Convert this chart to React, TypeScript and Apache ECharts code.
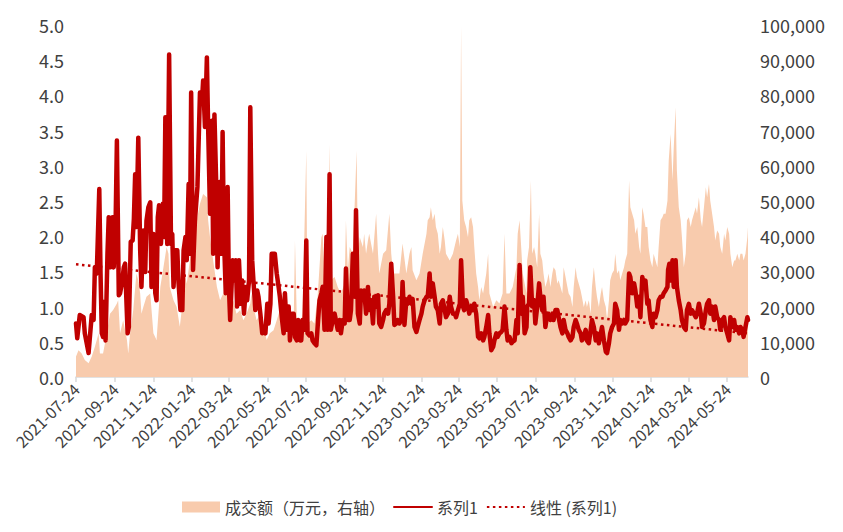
import React, { useEffect, useRef } from "react";
import * as echarts from "echarts";

// x axis: every calendar day from 2021-07-24 (day 0) to 2024-06-26 (day 1068)
const startDate = "2021-07-24";
const dayCount = 1069;

// 系列1 (left axis): [day offset from 2021-07-24, value]
const series1Points: [number, number][] = [
  [0,0.76],[2,0.55],[6,0.88],[12,0.85],[14,0.62],[20,0.34],[25,0.88],[28,0.81],[30,1.56],[33,1.47],
  [37,2.67],[39,1.47],[41,0.62],[43,0.57],[45,1.07],[47,0.52],[50,1.75],[52,2.27],[55,1.56],[58,2.27],
  [60,1.56],[63,2.22],[65,3.36],[68,1.16],[70,1.19],[73,1.33],[76,1.56],[78,1.61],[82,0.62],[84,0.71],
  [87,1.92],[90,1.94],[92,2.25],[94,2.88],[96,2.13],[99,3.40],[102,1.80],[104,1.28],[107,2.08],[110,1.49],
  [112,2.22],[115,2.41],[118,2.48],[120,1.28],[123,2.03],[126,1.19],[128,1.09],[130,2.27],[132,2.44],[135,1.89],
  [138,2.46],[140,1.99],[142,3.69],[145,1.89],[148,4.58],[151,1.89],[153,2.03],[155,1.28],[158,1.80],[161,1.80],
  [163,1.33],[166,0.95],[169,0.95],[171,1.80],[174,1.99],[176,1.66],[179,2.74],[181,1.75],[183,4.04],[186,1.52],
  [189,2.22],[193,2.70],[197,4.04],[200,3.88],[202,4.21],[205,3.55],[208,4.54],[210,3.55],[213,2.32],[216,3.64],
  [218,1.75],[220,3.73],[223,2.70],[225,1.56],[228,2.77],[231,1.75],[233,3.48],[235,2.03],[238,1.19],[241,2.70],
  [243,1.28],[245,0.81],[249,1.66],[251,1.37],[254,1.66],[256,1.00],[259,1.66],[262,1.04],[264,1.37],[267,0.90],
  [270,1.28],[272,1.09],[275,1.37],[277,3.83],[280,1.66],[282,1.37],[285,0.95],[288,1.23],[290,1.14],[293,0.90],
  [296,0.62],[298,0.71],[301,0.62],[304,1.04],[306,0.76],[309,1.04],[311,1.75],[314,1.75],[316,1.75],[319,1.47],
  [322,1.28],[324,1.14],[327,0.85],[330,0.62],[332,1.19],[335,0.67],[338,1.00],[340,0.52],[343,0.90],[346,0.90],
  [348,0.57],[351,0.52],[353,0.81],[356,0.52],
  [358,0.52],[360,0.81],[363,0.67],[366,1.94],[368,0.62],[371,0.59],[374,0.62],[376,0.52],[379,0.48],[382,0.45],
  [384,0.71],[387,1.09],[390,1.19],[392,1.28],[395,0.67],[398,1.99],[400,0.67],[403,2.88],[405,0.67],[408,0.81],
  [411,0.90],[413,0.81],[416,0.67],[419,0.81],[421,0.62],[424,0.81],[427,0.76],[429,1.54],[432,0.81],[435,0.81],
  [437,0.95],[440,1.75],[443,1.14],[445,2.37],[448,0.90],[451,0.76],[453,1.23],[456,1.14],[458,1.23],[461,0.90],
  [464,1.28],[466,0.95],[469,1.09],[472,0.76],[474,1.14],[477,1.00],[480,1.16],[482,0.76],[485,0.71],[488,0.81],
  [490,0.90],[493,0.95],[496,0.90],[498,1.04],[501,1.61],[504,1.14],[506,0.74],[509,0.76],[511,0.81],[514,0.76],
  [517,0.81],[519,1.35],[522,0.74],[525,1.09],[527,1.04],[530,1.14],[533,1.04],[535,1.11],[538,0.71],[541,0.64],
  [543,0.71],[546,0.81],[549,0.90],[551,1.00],[554,1.09],[557,1.14],[559,1.14],[562,1.47],[564,1.14],[567,1.33],
  [570,1.14],[572,1.00],[575,0.95],[578,0.76],[580,1.04],[583,1.09],[586,0.95],[588,0.85],[591,0.90],[594,1.14],
  [596,1.00],[599,0.90],[602,0.90],[604,0.85],[607,0.95],[610,1.04],[612,1.66],[615,1.00],[617,0.95],[620,1.09],
  [623,1.00],[625,0.90],[628,1.00],[631,0.95],[633,1.04],[636,0.90],[639,0.57],[641,0.55],[644,0.62],[647,0.52],
  [649,0.57],[652,0.71],[655,0.88],[657,0.62],[660,0.38],[663,0.43],[665,0.52],[668,0.62],[670,0.57],[673,0.62],
  [676,0.64],[678,0.67],[681,1.00],[684,0.67],[686,0.52],[689,0.57],[692,0.48],[694,0.50],[697,0.52],[700,0.81],
  [702,0.62],[705,1.59],[708,0.90],[710,1.14],[713,0.62],[716,0.71],
  [717,1.00],[720,1.04],[722,1.56],[725,1.00],[728,1.09],[730,0.76],[733,1.00],[736,1.33],[738,1.14],[741,0.95],
  [743,1.14],[746,0.71],[749,0.90],[751,0.85],[754,0.81],[757,0.90],[759,0.81],[762,0.95],[765,0.95],[767,0.85],
  [770,0.71],[773,0.62],[775,0.81],[778,0.67],[781,0.62],[783,0.57],[786,0.52],[789,0.57],[791,0.71],[794,0.81],
  [796,0.76],[799,0.67],[802,0.62],[804,0.52],[807,0.57],[810,0.67],[812,0.52],[815,0.48],[818,0.67],[820,0.81],
  [823,0.71],[826,0.52],[828,0.62],[831,0.48],[834,0.62],[836,0.71],[839,0.52],[842,0.36],[844,0.34],[847,0.48],
  [849,0.62],[852,0.71],[855,0.76],[857,1.04],[860,0.95],[863,0.67],[865,0.81],[868,0.76],[871,0.81],[873,0.76],
  [876,0.81],[879,1.47],[881,1.42],[884,1.19],[887,1.33],[889,1.23],[892,1.00],[895,1.14],[897,0.85],[900,1.42],
  [902,1.33],[905,1.37],[908,1.04],[910,1.09],[913,0.81],[916,0.71],[918,0.90],[921,0.85],[924,0.95],[926,1.09],
  [929,1.14],[932,1.14],[934,1.19],[937,1.23],[940,1.28],[941,1.52],[943,1.61],[945,1.37],[948,1.66],[950,1.28],
  [953,1.66],[955,1.28],[958,1.09],[961,0.95],[963,0.81],[966,0.71],[969,0.67],[971,0.95],[974,1.04],[977,0.90],
  [979,0.95],[982,0.90],[985,0.85],[987,0.90],[990,1.04],[993,0.90],[995,0.71],[998,0.76],[1001,0.95],[1003,1.04],
  [1006,1.09],[1008,0.90],[1011,1.00],[1014,0.81],[1016,1.00],[1019,0.85],[1022,0.81],[1024,0.67],[1027,0.81],[1030,0.85],
  [1032,0.71],[1035,0.62],[1038,0.52],[1040,0.85],[1043,0.71],[1046,0.81],[1048,0.67],[1051,0.71],[1054,0.62],[1056,0.71],
  [1059,0.67],[1061,0.57],[1064,0.71],[1067,0.85],[1068,0.81],
];

// 成交额 (万元, right axis): [day offset, value]
const turnoverPoints: [number, number][] = [
  [0,5800],[4,7600],[9,6700],[14,4800],[20,3900],[25,5800],[30,8600],[36,12400],[38,6700],[43,6700],
  [49,12400],[54,18000],[59,19000],[65,20900],[67,21800],[70,12400],[75,16100],[81,10500],[83,6700],[86,12400],
  [91,19000],[96,29400],[99,27500],[102,23700],[104,18000],[107,19900],[112,22800],[118,23700],[123,12400],[128,10500],
  [134,25600],[139,31200],[144,36900],[147,35000],[149,25600],[155,21800],[160,19900],[165,14300],[171,23700],[173,29400],
  [176,26500],[181,33100],[187,38800],[192,44500],[197,49200],[202,52000],[208,51100],[210,44500],[213,39700],[218,33100],
  [224,25600],[229,21800],[234,23700],[240,25600],[245,18000],[250,21800],[255,18000],[261,19000],[266,16100],[271,18000],
  [277,20900],[279,23700],[282,19900],[287,16100],[293,18000],[298,14300],[303,10500],[308,12400],[314,13300],[319,16100],
  [324,19000],[330,16100],[335,12400],[340,10500],[346,16100],[348,38800],[351,16100],[356,14300],
  [358,16100],[360,18000],[366,64300],[368,15200],[374,16100],[379,15200],[384,22800],[390,39700],[392,40700],[395,29400],
  [400,28400],[403,66200],[405,27500],[411,28400],[416,25600],[421,23700],[427,26500],[429,44500],[432,30300],[435,36900],
  [440,35000],[446,64300],[448,35000],[451,39700],[456,36900],[458,40700],[461,35000],[464,38800],[466,40700],[472,35000],
  [477,46400],[480,35000],[482,29400],[488,35000],[493,36000],[498,46400],[501,35000],[504,29400],[509,29400],[514,29400],
  [519,37900],[525,29400],[530,35000],[533,36900],[535,30300],[541,27500],[546,29400],[551,35000],[557,40700],[559,44500],
  [562,45400],[564,48200],[567,44500],[570,46400],[572,42600],[575,40700],[578,35000],[580,36900],[583,42600],[586,38800],
  [588,35000],[594,33100],[599,35000],[604,38800],[607,40700],[610,36900],[612,99700],[614,50100],[617,44500],[620,42600],
  [623,39700],[625,44500],[628,45400],[631,42600],[633,36900],[636,29400],[639,25600],[641,21800],[644,25600],[647,23700],
  [652,29400],[655,35000],[657,23700],[663,19900],[668,21800],[673,20900],[678,23700],[681,40700],[684,23700],[689,23700],
  [694,25600],[700,31200],[702,40700],[705,44500],[710,29400],[716,23700],
  [717,33100],[720,36900],[723,55800],[725,35000],[728,36900],[730,35000],[733,31200],[736,46400],[738,35000],[741,33100],
  [743,29400],[746,25600],[749,27500],[751,29400],[754,25600],[757,29400],[759,31200],[762,30300],[765,26500],[767,27500],
  [770,25600],[773,23700],[775,31200],[778,28400],[781,25600],[783,23700],[786,22800],[789,19900],[791,25600],[794,31200],
  [796,28400],[799,26500],[802,24600],[804,22800],[807,19900],[810,21800],[812,19900],[815,21800],[818,18000],[820,25600],
  [823,31200],[826,25600],[828,22800],[831,19900],[834,23700],[836,25600],[839,21800],[842,19900],[844,16100],[847,21800],
  [849,27500],[852,29400],[855,30300],[857,35000],[860,29400],[863,30300],[865,27500],[868,29400],[871,31200],[873,33100],
  [876,35000],[879,55800],[881,48200],[884,46400],[887,44500],[889,40700],[892,42600],[895,36900],[897,35000],[900,48200],
  [902,46400],[905,42600],[908,42600],[910,36900],[913,33100],[916,31200],[918,35000],[921,33100],[924,31200],[926,36900],
  [929,44500],[932,45400],[934,46400],[937,46400],[940,50100],[942,61500],[945,69000],[948,55800],[950,65200],[953,76600],
  [955,58600],[958,48200],[961,44500],[963,39700],[966,31200],[969,35000],[971,44500],[974,45400],[977,42600],[979,44500],
  [982,46400],[985,48200],[987,46400],[990,51100],[993,44500],[995,42600],[998,48200],[1001,53900],[1003,51100],[1006,54800],
  [1008,50100],[1011,46400],[1014,42600],[1016,38800],[1019,41600],[1022,40700],[1024,36900],[1027,35000],[1030,40700],[1032,38800],
  [1035,42600],[1038,40700],[1040,35000],[1043,31200],[1046,33100],[1048,33100],[1051,35000],[1054,33100],[1056,35000],[1059,35000],
  [1061,33100],[1064,35000],[1067,39700],[1068,42600],
];

// 线性 (系列1): trendline end points
const trendPoints: [number, number][] = [
  [0, 1.6],
  [1068, 0.62],
];

const seriesNames = ["成交额（万元，右轴）", "系列1", "线性 (系列1)"];

const FONT = '"Noto Sans CJK SC", "Noto Sans", sans-serif';
const TEXT = "#404040";

function buildCategories(): string[] {
  const [y, m, d] = startDate.split("-").map(Number);
  const base = Date.UTC(y, m - 1, d);
  const out: string[] = [];
  for (let i = 0; i < dayCount; i++) {
    out.push(new Date(base + i * 86400000).toISOString().slice(0, 10));
  }
  return out;
}

export default function App() {
  const ref = useRef<HTMLDivElement>(null);

  useEffect(() => {
    if (!ref.current) return;
    const chart = echarts.init(ref.current, undefined, { renderer: "svg" });
    const categories = buildCategories();
    const toData = (pts: [number, number][]) => pts.map(([d, v]) => [categories[d], v]);
    const isTick = (_i: number, val: string) => {
      const parts = String(val).split("-");
      return parts[2] === "24" && Number(parts[1]) % 2 === 1;
    };

    chart.setOption({
      animation: false,
      backgroundColor: "#ffffff",
      grid: { left: 76, right: 95, top: 25, bottom: 155 },
      legend: {
        left: 177,
        top: 494,
        itemWidth: 38,
        itemHeight: 11,
        itemGap: 8,
        textStyle: { fontSize: 16, color: TEXT, fontFamily: FONT },
        data: [
          { name: seriesNames[0], icon: "rect", itemStyle: { color: "#F8CBAD" } },
          { name: seriesNames[1], itemStyle: { opacity: 0 } },
          { name: seriesNames[2], itemStyle: { opacity: 0 } },
        ],
      },
      xAxis: {
        type: "category",
        data: categories,
        boundaryGap: false,
        axisLine: { lineStyle: { color: "#D9D9D9", width: 1.5 } },
        axisTick: { show: true, interval: isTick, length: 5, lineStyle: { color: "#D9D9D9", width: 1.5 } },
        axisLabel: {
          interval: isTick,
          rotate: 45,
          margin: 9,
          fontSize: 16,
          color: TEXT,
          fontFamily: FONT,
        },
        splitLine: { show: false },
      },
      yAxis: [
        {
          type: "value",
          min: 0,
          max: 5,
          interval: 0.5,
          axisLine: { show: false },
          axisTick: { show: false },
          splitLine: { show: false },
          axisLabel: {
            formatter: (v: number) => v.toFixed(1),
            fontSize: 18,
            color: TEXT,
            fontFamily: FONT,
            margin: 12,
          },
        },
        {
          type: "value",
          position: "right",
          min: 0,
          max: 100000,
          interval: 10000,
          axisLine: { show: false },
          axisTick: { show: false },
          splitLine: { show: false },
          axisLabel: {
            formatter: (v: number) => v.toLocaleString("en-US"),
            fontSize: 18,
            color: TEXT,
            fontFamily: FONT,
            margin: 12,
          },
        },
      ],
      series: [
        {
          name: seriesNames[0],
          type: "line",
          yAxisIndex: 1,
          data: toData(turnoverPoints),
          symbol: "none",
          lineStyle: { width: 0, color: "#F8CBAD" },
          itemStyle: { color: "#F8CBAD" },
          areaStyle: { color: "#F8CBAD", opacity: 1 },
          z: 1,
        },
        {
          name: seriesNames[1],
          type: "line",
          yAxisIndex: 0,
          data: toData(series1Points),
          symbol: "none",
          lineStyle: { width: 4.5, color: "#C00000", cap: "round", join: "round" },
          itemStyle: { color: "#C00000" },
          z: 3,
        },
        {
          name: seriesNames[2],
          type: "line",
          yAxisIndex: 0,
          data: toData(trendPoints),
          symbol: "none",
          lineStyle: { width: 2.5, color: "#C00000", type: [2.5, 3.5] },
          itemStyle: { color: "#C00000" },
          z: 4,
        },
      ],
    });

    return () => chart.dispose();
  }, []);

  return (
    <div
      ref={ref}
      style={{ position: "fixed", left: 0, top: 0, width: 843, height: 532, background: "#fff" }}
    />
  );
}
